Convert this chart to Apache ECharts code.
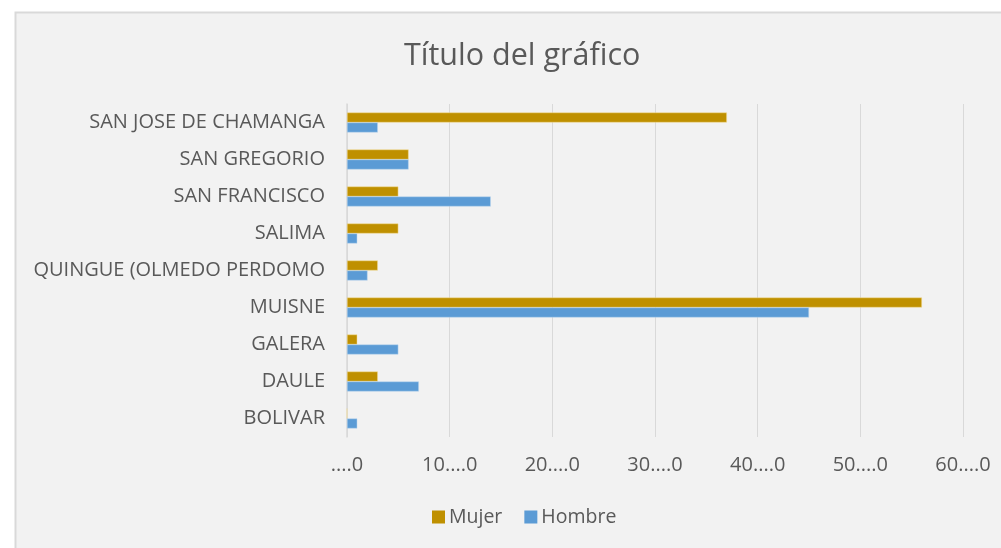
<!DOCTYPE html>
<html>
<head>
<meta charset="utf-8">
<script src="https://cdn.jsdelivr.net/npm/echarts@6/dist/echarts.min.js"></script>
<style>
html, body { margin: 0; padding: 0; background: #fff; }
#chart { width: 1001px; height: 548px; }
</style>
</head>
<body>
<div id="chart"></div>
<script>
// categories listed bottom to top
var categories = ['BOLIVAR', 'DAULE', 'GALERA', 'MUISNE', 'QUINGUE (OLMEDO PERDOMO', 'SALIMA', 'SAN FRANCISCO', 'SAN GREGORIO', 'SAN JOSE DE CHAMANGA'];
var mujer = [0, 3, 1, 56, 3, 5, 5, 6, 37];
var hombre = [1, 7, 5, 45, 2, 1, 14, 6, 3];

var chart = echarts.init(document.getElementById('chart'));
var font = '"Open Sans", sans-serif';

chart.setOption({
    backgroundColor: '#fff',
    animation: false,
    graphic: [{
        type: 'rect',
        z: -10,
        shape: { x: 15.5, y: 12.5, width: 1000, height: 550 },
        style: { fill: '#F2F2F2', stroke: '#D9D9D9', lineWidth: 2 }
    }],
    title: {
        text: 'Título del gráfico',
        left: 399,
        top: 36,
        textStyle: { fontFamily: font, fontSize: 30.5, fontWeight: 'normal', color: '#595959' }
    },
    legend: {
        data: ['Mujer', 'Hombre'],
        bottom: 16,
        left: 427,
        itemWidth: 13,
        itemHeight: 13,
        itemGap: 22,
        icon: 'rect',
        itemStyle: { borderWidth: 0 },
        textStyle: { fontFamily: font, fontSize: 19.5, color: '#595959', padding: [0, 0, 0, -1] }
    },
    grid: { left: 347, right: 38, top: 104, bottom: 111 },
    xAxis: {
        type: 'value',
        min: 0,
        max: 60,
        interval: 10,
        axisLine: { show: false },
        axisTick: { show: false },
        splitLine: { lineStyle: { color: '#D9D9D9', width: 1 } },
        axisLabel: {
            margin: 18,
            fontFamily: font, fontSize: 20, color: '#595959',
            formatter: function (v) { return v === 0 ? '....0' : v + '....0'; }
        }
    },
    yAxis: {
        type: 'category',
        data: categories,
        axisLine: { lineStyle: { color: '#D9D9D9', width: 1.5 } },
        axisTick: { show: false },
        axisLabel: { margin: 22, fontFamily: font, fontSize: 20, color: '#595959' }
    },
    series: [{
        name: 'Mujer',
        type: 'bar',
        data: mujer,
        barGap: '0%',
        barCategoryGap: '46%',
        itemStyle: { color: '#BF9000', borderColor: '#F5DE9A', borderWidth: 0.5 }
    }, {
        name: 'Hombre',
        type: 'bar',
        data: hombre,
        barGap: '0%',
        barCategoryGap: '46%',
        itemStyle: { color: '#5B9BD5', borderColor: '#BDD7EE', borderWidth: 0.5 }
    }]
});
</script>
</body>
</html>
